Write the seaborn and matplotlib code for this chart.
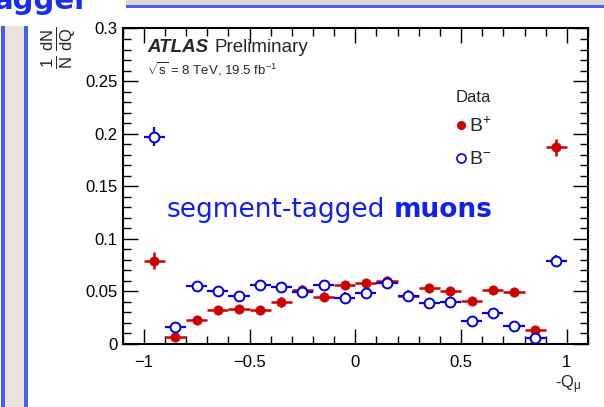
import numpy as np
import pandas as pd
import matplotlib
matplotlib.use("Agg")
import matplotlib.pyplot as plt
import seaborn as sns
from matplotlib.ticker import MultipleLocator
from matplotlib.patches import Rectangle

# ---------------- data ----------------
bin_centers = [-0.95, -0.85, -0.75, -0.65, -0.55, -0.45, -0.35, -0.25, -0.15, -0.05,
               0.05, 0.15, 0.25, 0.35, 0.45, 0.55, 0.65, 0.75, 0.85, 0.95]
bplus = [0.079, 0.007, 0.023, 0.032, 0.033, 0.032, 0.040, 0.051, 0.045, 0.056,
         0.058, 0.060, 0.046, 0.053, 0.050, 0.041, 0.051, 0.049, 0.013, 0.187]
bplus_err = [0.008, 0.002, 0.003, 0.004, 0.004, 0.004, 0.005, 0.005, 0.004, 0.004,
             0.004, 0.005, 0.004, 0.004, 0.004, 0.004, 0.004, 0.003, 0.002, 0.008]
bminus = [0.197, 0.016, 0.055, 0.050, 0.046, 0.056, 0.054, 0.049, 0.056, 0.044,
          0.048, 0.058, 0.046, 0.039, 0.040, 0.022, 0.029, 0.017, 0.006, 0.079]
bminus_err = [0.009, 0.002, 0.003, 0.004, 0.004, 0.004, 0.005, 0.005, 0.004, 0.005,
              0.005, 0.005, 0.005, 0.004, 0.004, 0.003, 0.003, 0.002, 0.002, 0.006]
half_width = 0.05

series_labels = ["B$^{+}$", "B$^{-}$"]
xticks = [-1, -0.5, 0, 0.5, 1]
xticklabels = ["\u22121", "\u22120.5", "0", "0.5", "1"]
yticks = [0, 0.05, 0.1, 0.15, 0.2, 0.25, 0.3]
yticklabels = ["0", "0.05", "0.1", "0.15", "0.2", "0.25", "0.3"]

df = pd.DataFrame({
    "q": bin_centers * 2,
    "val": bplus + bminus,
    "err": bplus_err + bminus_err,
    "series": ["B+"] * len(bin_centers) + ["B-"] * len(bin_centers),
})

RED = "#cc0000"
BLUE = "#0000dd"

sns.set_theme(style="ticks")
plt.rcParams["font.family"] = ["Liberation Sans", "DejaVu Sans"]
plt.rcParams["mathtext.fontset"] = "custom"
plt.rcParams["mathtext.rm"] = "Liberation Sans"
plt.rcParams["mathtext.it"] = "Liberation Sans:italic"

fig = plt.figure(figsize=(6.04, 4.07), dpi=100)
fig.patch.set_facecolor("white")

# slide decorations
strip_ax = fig.add_axes([0, 0, 1, 1], zorder=-5)
strip_ax.set_xlim(0, 604)
strip_ax.set_ylim(407, 0)
strip_ax.axis("off")
strip_ax.add_patch(Rectangle((1, 26), 27, 381, facecolor="#4a5cf2", edgecolor="none"))
strip_ax.add_patch(Rectangle((5, 26), 19, 381, facecolor="#ebe4da", edgecolor="none"))
strip_ax.add_patch(Rectangle((126, 0), 478, 5, facecolor="#ddd8d0", edgecolor="none"))
strip_ax.add_patch(Rectangle((126, 5), 478, 3, facecolor="#4a5cf2", edgecolor="none"))
strip_ax.text(-6, 9, "agger", color="#1a2cf0", fontsize=21, fontweight="bold",
              va="baseline", ha="left", family=["DejaVu Sans"])

ax = fig.add_axes([0.203, 0.155, 0.7705, 0.775])

sub_p = df[df.series == "B+"]
sub_m = df[df.series == "B-"]
ax.errorbar(sub_p.q, sub_p.val, yerr=sub_p.err, xerr=half_width, fmt="none",
            ecolor=RED, elinewidth=1.8, capsize=0, zorder=2)
ax.errorbar(sub_m.q, sub_m.val, yerr=sub_m.err, xerr=half_width, fmt="none",
            ecolor=BLUE, elinewidth=1.6, capsize=0, zorder=3)

sns.scatterplot(data=sub_p, x="q", y="val", ax=ax, color=RED, s=45,
                marker="o", edgecolor=RED, linewidth=0.5, zorder=4, legend=False)
sns.scatterplot(data=sub_m, x="q", y="val", ax=ax, facecolor="white", s=50,
                marker="o", edgecolor=BLUE, linewidth=1.4, zorder=5, legend=False)

ax.set_xlim(-1.1, 1.1)
ax.set_ylim(0, 0.3)
ax.set_xticks(xticks)
ax.set_xticklabels(xticklabels)
ax.set_yticks(yticks)
ax.set_yticklabels(yticklabels)
ax.xaxis.set_minor_locator(MultipleLocator(0.1))
ax.yaxis.set_minor_locator(MultipleLocator(0.01))
ax.tick_params(which="both", direction="in", top=True, right=True,
               labelsize=12, colors="black", width=1)
ax.tick_params(which="major", length=11)
ax.tick_params(which="minor", length=5.5)
ax.tick_params(axis="x", which="major", pad=8)
for sp in ax.spines.values():
    sp.set_linewidth(1.5)
    sp.set_color("black")
ax.set_xlabel("")
ax.set_ylabel("")

# axis titles
fig.text(568 / 604, 1 - 385 / 407, r"-Q$_{\mathrm{\mu}}$", fontsize=12,
         ha="center", va="center")
fig.text(58 / 604, 1 - 48 / 407, r"$\mathrm{\frac{1}{N}\,\frac{dN}{dQ}}$", fontsize=17,
         rotation=90, ha="center", va="center")

# annotations
t1 = fig.text(147 / 604, 1 - 48 / 407, "ATLAS", fontsize=13.5,
              fontweight="bold", fontstyle="italic", va="center", ha="left")
fig.canvas.draw()
bb = t1.get_window_extent()
fig.text(bb.x1 / fig.bbox.width + 6 / 604, 1 - 48 / 407, "Preliminary",
         fontsize=13.5, va="center", ha="left")
fig.text(147 / 604, 1 - 69 / 407, r"$\sqrt{\mathrm{s}}$ = 8 TeV, 19.5 fb$^{-1}$",
         fontsize=9.5, va="center", ha="left")

# legend
fig.text(473 / 604, 1 - 97 / 407, "Data", fontsize=12, va="center", ha="center")
ax.plot([461 / 604], [1 - 125 / 407], "o", color=RED, ms=5.5, transform=fig.transFigure,
        clip_on=False)
ax.plot([461 / 604], [1 - 158 / 407], "o", mfc="white", mec=BLUE, mew=1.2, ms=6.5,
        transform=fig.transFigure, clip_on=False)
fig.text(469 / 604, 1 - 126 / 407, series_labels[0], fontsize=14, va="center", ha="left")
fig.text(469 / 604, 1 - 159 / 407, series_labels[1], fontsize=14, va="center", ha="left")

# slide annotation
s1 = fig.text(167 / 604, 1 - 210 / 407, "segment-tagged", fontsize=19,
              color="#1020f0", va="center", ha="left", family=["DejaVu Sans"])
fig.canvas.draw()
bb2 = s1.get_window_extent()
fig.text(bb2.x1 / fig.bbox.width + 8 / 604, 1 - 210 / 407, "muons", fontsize=19,
         color="#1020f0", va="center", ha="left", fontweight="bold",
         family=["DejaVu Sans"])

fig.savefig("out.png", dpi=100)
